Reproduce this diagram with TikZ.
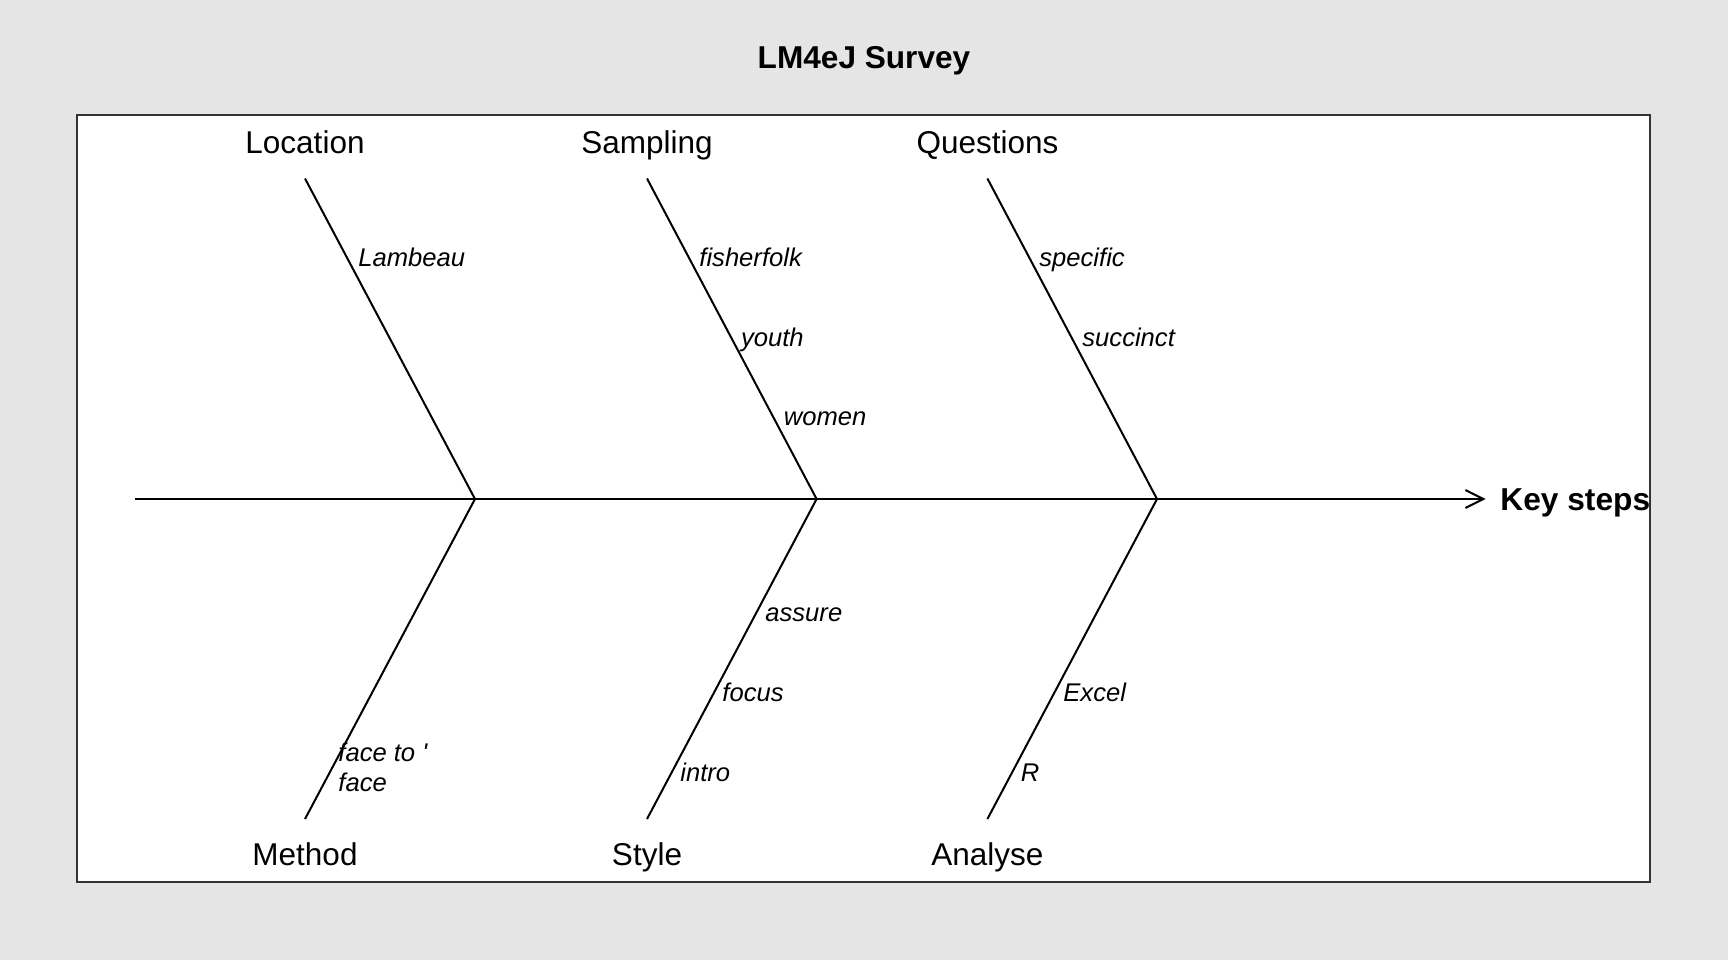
\documentclass[tikz,border=0pt]{standalone}
\usepackage{fontspec}
\setmainfont{Liberation Sans}[Ligatures=TeXOff]
\usetikzlibrary{arrows.meta}
\definecolor{bgray}{HTML}{E5E5E5}
\definecolor{fgray}{HTML}{333333}
\begin{document}
\begin{tikzpicture}[x=0.5pt,y=-0.5pt,
  bone/.style={line width=1pt,black},
  cat/.style={font=\fontsize{15.75pt}{18pt}\selectfont,inner sep=0pt,anchor=base},
  sub/.style={font=\fontsize{12.8pt}{15.5pt}\selectfont\itshape,inner sep=0pt,anchor=base west},
]
\useasboundingbox (0,0) rectangle (1728,960);
\fill[bgray] (0,0) rectangle (1728,960);
\filldraw[fill=white,draw=fgray,line width=0.75pt] (77,115) rectangle (1650,882);
\node[font=\fontsize{15.8pt}{18pt}\selectfont\bfseries,inner sep=0pt,anchor=base] (title) at (864,68) {LM4eJ Survey};

% spine
\coordinate (tail) at (134.5,499);
\coordinate (head) at (1485.6,499);
\coordinate (j1) at (475,499);
\coordinate (j2) at (816.6,499);
\coordinate (j3) at (1157,499);
\node[font=\fontsize{15.85pt}{18pt}\selectfont\bfseries,inner sep=0pt,anchor=base west] (key) at (1500,510) {Key steps};
\draw[bone,-{Straight Barb[length=9pt,width=9pt,line width=1pt]}] (tail) -- (head);

% branch ends
\coordinate (t1) at (305,178.5);
\coordinate (t2) at (647,178.5);
\coordinate (t3) at (987.4,178.5);
\coordinate (b1) at (305,819);
\coordinate (b2) at (647,819);
\coordinate (b3) at (987.4,819);
\draw[bone] (t1) -- (j1) -- (b1);
\draw[bone] (t2) -- (j2) -- (b2);
\draw[bone] (t3) -- (j3) -- (b3);

% category labels
\node[cat] (loc) at (305,153) {Location};
\node[cat] (samp) at (647,153) {Sampling};
\node[cat] (ques) at (987.4,153) {Questions};
\node[cat] (meth) at (305,865) {Method};
\node[cat] (styl) at (647,865) {Style};
\node[cat] (anal) at (987.4,865) {Analyse};

% sub labels
\node[sub] (lamb) at (358,266) {Lambeau};
\node[sub] (fish) at (699,266) {fisherfolk};
\node[sub] (yout) at (740.6,346) {youth};
\node[sub] (wome) at (783.5,425.5) {women};
\node[sub] (spec) at (1039,266) {specific};
\node[sub] (succ) at (1082,346) {succinct};
\node[sub] (assu) at (765,621) {assure};
\node[sub] (focu) at (722,701) {focus};
\node[sub] (intr) at (680,781.5) {intro};
\node[sub] (exce) at (1063,701) {Excel};
\node[sub] (rr) at (1020.5,781.5) {R};
\node[sub] (face1) at (338,761) {face to '};
\node[sub] (face2) at (338,791) {face};
\end{tikzpicture}
\end{document}
